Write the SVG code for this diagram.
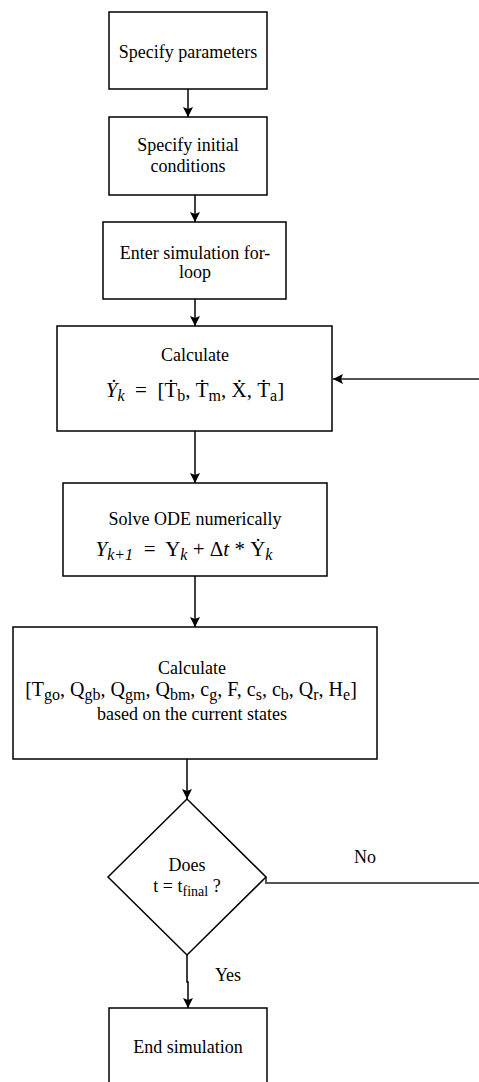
<svg xmlns="http://www.w3.org/2000/svg" width="479" height="1082" viewBox="0 0 479 1082">
<defs>
<style>
.box{fill:#fff;stroke:#000;stroke-width:1.5}
text{font-family:"Liberation Serif","Times New Roman","DejaVu Serif",serif;fill:#000;text-anchor:middle}
.t{font-size:18px}
.m{font-size:21px}
.i{font-style:italic}
.sub{font-size:14px}
.msub{font-size:16px}
.c{fill:none;stroke:#000;stroke-width:1.5}
.fb{fill:none;stroke:#555;stroke-width:2}
</style>
<marker id="ah" viewBox="0 0 10 10" refX="10" refY="5" markerWidth="10" markerHeight="10" markerUnits="userSpaceOnUse" orient="auto">
<path d="M0,0 L10,5 L0,10 L2,5 Z" fill="#000"/>
</marker>
</defs>
<rect width="479" height="1082" fill="#fff"/>
<g id="connectors">
<path class="c" d="M188,89 V117" marker-end="url(#ah)"/>
<path class="c" d="M195,195 V222" marker-end="url(#ah)"/>
<path class="c" d="M195,299 V326" marker-end="url(#ah)"/>
<path class="c" d="M195,431 V483" marker-end="url(#ah)"/>
<path class="c" d="M195,576 V627" marker-end="url(#ah)"/>
<path class="c" d="M187,759 V799" marker-end="url(#ah)"/>
<path class="c" d="M187,955 V982 H188 V1008" marker-end="url(#ah)"/>
<path class="fb" d="M266,877 V883 H482 V379 H333" marker-end="url(#ah)"/>
<text class="t" x="365" y="863" font-family="Liberation Serif, serif">No</text>
<text class="t" x="228" y="981" font-family="Liberation Serif, serif">Yes</text>
</g>
<g id="n1">
<rect class="box" x="109" y="12" width="158" height="77"/>
<text class="t" x="188" y="58" font-family="Liberation Serif, serif">Specify parameters</text>
</g>
<g id="n2">
<rect class="box" x="109" y="117" width="158" height="78"/>
<text class="t" x="188" y="151" font-family="Liberation Serif, serif">Specify initial</text>
<text class="t" x="188" y="172" font-family="Liberation Serif, serif">conditions</text>
</g>
<g id="n3">
<rect class="box" x="103" y="222" width="183" height="77"/>
<text class="t" x="195" y="259" font-family="Liberation Serif, serif">Enter simulation for-</text>
<text class="t" x="195" y="278" font-family="Liberation Serif, serif">loop</text>
</g>
<g id="n4">
<rect class="box" x="57" y="326" width="275" height="105"/>
<text class="t" x="195" y="361" font-family="Liberation Serif, serif">Calculate</text>
<text class="m" x="195" y="397" font-family="Liberation Serif, serif" xml:space="preserve"><tspan class="i">Ẏ</tspan><tspan class="i msub" dy="4">k</tspan><tspan dy="-4">  =  [Ṫ</tspan><tspan class="msub" dy="4">b</tspan><tspan dy="-4">, Ṫ</tspan><tspan class="msub" dy="4">m</tspan><tspan dy="-4">, Ẋ, Ṫ</tspan><tspan class="msub" dy="4">a</tspan><tspan dy="-4">]</tspan></text>
</g>
<g id="n5">
<rect class="box" x="63" y="483" width="264" height="93"/>
<text class="t" x="195" y="525" font-family="Liberation Serif, serif">Solve ODE numerically</text>
<text class="m" x="184" y="556" font-family="Liberation Serif, serif" xml:space="preserve"><tspan class="i">Y</tspan><tspan class="i msub" dy="4">k+1</tspan><tspan dy="-4">  =  Y</tspan><tspan class="i msub" dy="4">k</tspan><tspan dy="-4"> + Δ</tspan><tspan class="i">t</tspan><tspan> * Ẏ</tspan><tspan class="i msub" dy="4">k</tspan></text>
</g>
<g id="n6">
<rect class="box" x="13" y="627" width="364" height="132"/>
<text class="t" x="192" y="674" font-family="Liberation Serif, serif">Calculate</text>
<text x="191" y="696" font-size="20" font-family="Liberation Serif, serif">[T<tspan font-size="16" dy="4">go</tspan><tspan dy="-4">, Q</tspan><tspan font-size="16" dy="4">gb</tspan><tspan dy="-4">, Q</tspan><tspan font-size="16" dy="4">gm</tspan><tspan dy="-4">, Q</tspan><tspan font-size="16" dy="4">bm</tspan><tspan dy="-4">, c</tspan><tspan font-size="16" dy="4">g</tspan><tspan dy="-4">, F, c</tspan><tspan font-size="16" dy="4">s</tspan><tspan dy="-4">, c</tspan><tspan font-size="16" dy="4">b</tspan><tspan dy="-4">, Q</tspan><tspan font-size="16" dy="4">r</tspan><tspan dy="-4">, H</tspan><tspan font-size="16" dy="4">e</tspan><tspan dy="-4">]</tspan></text>
<text class="t" x="192" y="720" font-family="Liberation Serif, serif">based on the current states</text>
</g>
<g id="n7">
<polygon class="box" points="187,799 266,877 187,955 108,877"/>
<text class="t" x="187" y="871" font-family="Liberation Serif, serif">Does</text>
<text class="t" x="187" y="892" font-family="Liberation Serif, serif">t = t<tspan class="sub" dy="4">final</tspan><tspan dy="-4"> ?</tspan></text>
</g>
<g id="n8">
<rect class="box" x="109" y="1008" width="158" height="90"/>
<text class="t" x="188" y="1053" font-family="Liberation Serif, serif">End simulation</text>
</g>
</svg>
